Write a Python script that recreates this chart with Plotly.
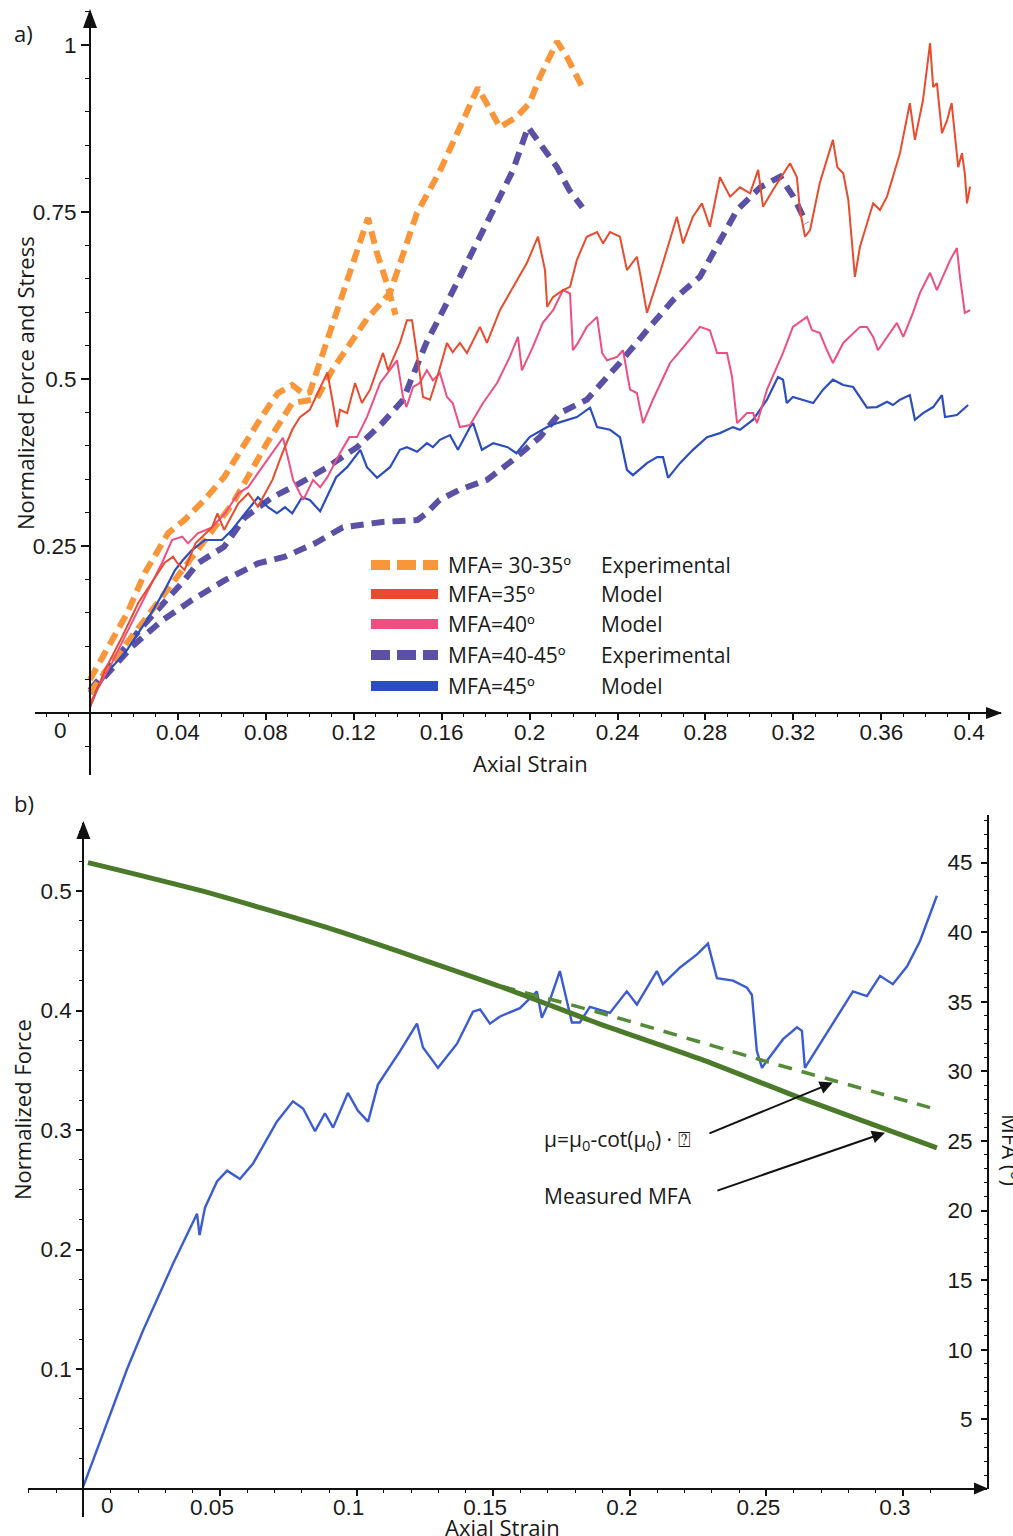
import plotly.graph_objects as go

# ---------------- DATA (panel a) ----------------
orange_a_x = [0, 0.008, 0.017, 0.025, 0.0355, 0.043, 0.052, 0.061, 0.0705, 0.078, 0.0855, 0.092, 0.097, 0.1,
              0.1265, 0.1305, 0.135, 0.139]
orange_a_y = [0.05, 0.099, 0.15, 0.21, 0.269, 0.289, 0.319, 0.353, 0.404, 0.443, 0.479, 0.491, 0.478, 0.48,
              0.741, 0.689, 0.644, 0.596]

orange_b_x = [0, 0.012, 0.025, 0.04, 0.05, 0.065, 0.0805, 0.092, 0.103, 0.1105, 0.126, 0.1365, 0.1488, 0.159,
              0.1765, 0.1865, 0.194, 0.2, 0.2047, 0.2125, 0.217, 0.2215, 0.225]
orange_b_y = [0.03, 0.085, 0.14, 0.205, 0.249, 0.314, 0.404, 0.464, 0.47, 0.515, 0.59, 0.629, 0.749, 0.81,
              0.936, 0.877, 0.892, 0.913, 0.952, 1.005, 0.982, 0.952, 0.93]

purple_a_x = [0, 0.0127, 0.0237, 0.043, 0.049, 0.061, 0.0705, 0.083, 0.0955, 0.108, 0.1215, 0.133, 0.1425,
              0.1455, 0.153, 0.1607, 0.168, 0.176, 0.1835, 0.1925, 0.1993, 0.2047, 0.2125, 0.218, 0.224]
purple_a_y = [0.034, 0.084, 0.129, 0.199, 0.224, 0.249, 0.293, 0.323, 0.344, 0.368, 0.398, 0.434, 0.469,
              0.494, 0.554, 0.603, 0.653, 0.704, 0.753, 0.813, 0.877, 0.853, 0.817, 0.783, 0.757]

purple_b_x = [0, 0.019, 0.033, 0.0464, 0.0614, 0.0764, 0.0887, 0.1024, 0.115, 0.133, 0.149, 0.153, 0.159,
              0.168, 0.1806, 0.1925, 0.2047, 0.2138, 0.226, 0.241, 0.2534, 0.2652, 0.2775, 0.2866, 0.2944,
              0.305, 0.314, 0.32, 0.326]
purple_b_y = [0.03, 0.099, 0.139, 0.169, 0.199, 0.224, 0.234, 0.254, 0.278, 0.286, 0.289, 0.299, 0.319,
              0.334, 0.349, 0.379, 0.413, 0.449, 0.469, 0.524, 0.573, 0.618, 0.653, 0.708, 0.753,
              0.787, 0.803, 0.773, 0.733]

red_x = [0, 0.0068, 0.0146, 0.022, 0.028, 0.034, 0.0378, 0.0396, 0.043, 0.048, 0.0555, 0.058, 0.061, 0.0675,
         0.072, 0.0764, 0.083, 0.0875, 0.092, 0.0955, 0.1, 0.1047, 0.108, 0.1105, 0.1124, 0.1137, 0.117,
         0.1206, 0.1237, 0.1274, 0.1333, 0.1356, 0.141, 0.1442, 0.1465, 0.150, 0.1515, 0.1547, 0.158, 0.1624,
         0.165, 0.1683, 0.1715, 0.1774, 0.1806, 0.1865, 0.1925, 0.1988, 0.2038, 0.207, 0.208, 0.2107, 0.2152,
         0.2184, 0.2215, 0.226, 0.2307, 0.2334, 0.2366, 0.2411, 0.2443, 0.2488, 0.2502, 0.2534, 0.2593, 0.267,
         0.2698, 0.2743, 0.2784, 0.282, 0.2866, 0.2912, 0.2957, 0.3003, 0.304, 0.3062, 0.3107, 0.317, 0.3185,
         0.3216, 0.323, 0.3253, 0.3276, 0.332, 0.338, 0.34, 0.3427, 0.345, 0.348, 0.3503, 0.3563, 0.3594,
         0.3626, 0.3685, 0.373, 0.3753, 0.379, 0.3822, 0.3836, 0.3853, 0.3876, 0.39, 0.392, 0.395, 0.3967,
         0.398, 0.399, 0.4004]
red_y = [0.009, 0.064, 0.114, 0.165, 0.195, 0.225, 0.234, 0.225, 0.214, 0.254, 0.278, 0.299, 0.274, 0.314,
         0.329, 0.309, 0.349, 0.389, 0.424, 0.443, 0.454, 0.488, 0.510, 0.464, 0.428, 0.454, 0.449,
         0.494, 0.464, 0.484, 0.539, 0.513, 0.554, 0.588, 0.588, 0.509, 0.473, 0.469, 0.503, 0.554,
         0.540, 0.554, 0.539, 0.578, 0.554, 0.603, 0.638, 0.674, 0.713, 0.663, 0.608, 0.623, 0.633,
         0.638, 0.678, 0.713, 0.720, 0.703, 0.720, 0.713, 0.663, 0.683, 0.659, 0.599, 0.659, 0.743,
         0.703, 0.743, 0.763, 0.728, 0.802, 0.773, 0.787, 0.778, 0.813, 0.758, 0.783, 0.817, 0.823,
         0.802, 0.753, 0.713, 0.723, 0.793, 0.858, 0.817, 0.808, 0.768, 0.653, 0.698, 0.763, 0.753,
         0.773, 0.838, 0.913, 0.858, 0.918, 1.003, 0.937, 0.943, 0.868, 0.888, 0.913, 0.817, 0.838,
         0.808, 0.763, 0.788]

pink_x = [0, 0.01, 0.0173, 0.025, 0.0328, 0.0373, 0.042, 0.0446, 0.049, 0.0555, 0.0614, 0.0675, 0.0719,
          0.0764, 0.083, 0.0878, 0.09, 0.0924, 0.097, 0.1015, 0.1047, 0.108, 0.1137, 0.118, 0.1215, 0.126,
          0.132, 0.1365, 0.1397, 0.1424, 0.144, 0.147, 0.150, 0.1533, 0.156, 0.1592, 0.1624, 0.165, 0.1683,
          0.1729, 0.1788, 0.1852, 0.191, 0.1947, 0.1965, 0.2015, 0.206, 0.2107, 0.2152, 0.2184, 0.2197, 0.222,
          0.226, 0.2307, 0.233, 0.2352, 0.2398, 0.2425, 0.2457, 0.2488, 0.2516, 0.2561, 0.2639, 0.2716, 0.2775,
          0.282, 0.2853, 0.2898, 0.2921, 0.2944, 0.2989, 0.3017, 0.3035, 0.308, 0.3153, 0.3198, 0.3262, 0.3285,
          0.332, 0.3353, 0.338, 0.3427, 0.3472, 0.3503, 0.3535, 0.3563, 0.3585, 0.3626, 0.3671, 0.37, 0.3744,
          0.3776, 0.3822, 0.3853, 0.388, 0.3913, 0.3944, 0.3958, 0.398, 0.4004]
pink_y = [0.015, 0.075, 0.124, 0.174, 0.225, 0.259, 0.264, 0.254, 0.269, 0.278, 0.299, 0.329, 0.338,
          0.359, 0.389, 0.412, 0.383, 0.349, 0.319, 0.349, 0.338, 0.353, 0.389, 0.413, 0.413, 0.443,
          0.494, 0.513, 0.528, 0.473, 0.458, 0.488, 0.494, 0.513, 0.498, 0.509, 0.473, 0.464, 0.428,
          0.431, 0.464, 0.494, 0.533, 0.563, 0.513, 0.548, 0.584, 0.603, 0.633, 0.628, 0.543, 0.554,
          0.578, 0.593, 0.539, 0.528, 0.533, 0.543, 0.484, 0.479, 0.434, 0.469, 0.524, 0.554, 0.578,
          0.573, 0.539, 0.539, 0.503, 0.434, 0.449, 0.449, 0.434, 0.484, 0.539, 0.578, 0.593, 0.573,
          0.569, 0.543, 0.524, 0.554, 0.569, 0.578, 0.578, 0.563, 0.543, 0.563, 0.584, 0.563, 0.599,
          0.629, 0.659, 0.633, 0.653, 0.678, 0.696, 0.653, 0.599, 0.603]

blue_x = [0, 0.0036, 0.01, 0.016, 0.022, 0.028, 0.034, 0.0387, 0.0423, 0.0464, 0.0523, 0.06, 0.0646, 0.0705,
          0.0764, 0.081, 0.085, 0.0887, 0.092, 0.0965, 0.1, 0.1047, 0.112, 0.117, 0.123, 0.126, 0.1306, 0.1365,
          0.141, 0.1442, 0.1488, 0.1533, 0.156, 0.1592, 0.1638, 0.1674, 0.1729, 0.1743, 0.1783, 0.1835, 0.19,
          0.194, 0.2, 0.208, 0.2125, 0.2215, 0.2275, 0.2307, 0.2366, 0.2411, 0.2443, 0.247, 0.2534, 0.258,
          0.2607, 0.263, 0.2684, 0.2743, 0.2807, 0.2866, 0.2925, 0.2957, 0.3017, 0.308, 0.313, 0.3153, 0.317,
          0.3198, 0.3244, 0.329, 0.3335, 0.338, 0.3427, 0.3472, 0.3503, 0.3535, 0.358, 0.3626, 0.3653, 0.3685,
          0.373, 0.3753, 0.379, 0.3836, 0.3876, 0.389, 0.3944, 0.3995]
blue_y = [0.009, 0.039, 0.069, 0.09, 0.12, 0.15, 0.184, 0.214, 0.229, 0.244, 0.259, 0.259, 0.274, 0.299,
          0.323, 0.308, 0.299, 0.308, 0.299, 0.323, 0.319, 0.302, 0.353, 0.368, 0.394, 0.368, 0.352, 0.368,
          0.394, 0.398, 0.391, 0.404, 0.398, 0.409, 0.416, 0.394, 0.428, 0.434, 0.394, 0.404, 0.398,
          0.389, 0.413, 0.428, 0.434, 0.443, 0.457, 0.428, 0.424, 0.413, 0.364, 0.356, 0.374, 0.383,
          0.383, 0.352, 0.374, 0.394, 0.413, 0.419, 0.428, 0.424, 0.439, 0.469, 0.503, 0.499, 0.464,
          0.473, 0.469, 0.464, 0.484, 0.499, 0.491, 0.488, 0.473, 0.457, 0.458, 0.466, 0.461, 0.469,
          0.476, 0.439, 0.449, 0.458, 0.476, 0.443, 0.446, 0.461]

top_x_ticks = [0.04, 0.08, 0.12, 0.16, 0.2, 0.24, 0.28, 0.32, 0.36, 0.4]
top_x_labels = ["0.04", "0.08", "0.12", "0.16", "0.2", "0.24", "0.28", "0.32", "0.36", "0.4"]
top_y_ticks = [0.25, 0.5, 0.75, 1.0]
top_y_labels = ["0.25", "0.5", "0.75", "1"]

legend_labels = ["MFA= 30-35º", "MFA=35º", "MFA=40º", "MFA=40-45º", "MFA=45º"]
legend_types = ["Experimental", "Model", "Model", "Experimental", "Model"]

# ---------------- DATA (panel b) ----------------
force_x = [0, 0.016, 0.0218, 0.0328, 0.0416, 0.0425, 0.0445, 0.0489, 0.0526, 0.0573, 0.0621, 0.0708, 0.0767,
           0.0804, 0.0848, 0.0884, 0.0914, 0.0968, 0.1005, 0.1042, 0.1078, 0.1159, 0.1221, 0.1243, 0.1298,
           0.1367, 0.1426, 0.1452, 0.1488, 0.1525, 0.1598, 0.166, 0.1678, 0.1708, 0.1744, 0.177, 0.1788,
           0.1817, 0.1854, 0.1927, 0.1989, 0.2026, 0.2099, 0.2121, 0.2184, 0.2246, 0.2286, 0.2319, 0.2378,
           0.2429, 0.2447, 0.2465, 0.2484, 0.2502, 0.2561, 0.2612, 0.263, 0.2641, 0.2696, 0.2744, 0.2817,
           0.2868, 0.2916, 0.2963, 0.3015, 0.3062, 0.3124]
force_y = [0.002, 0.1, 0.132, 0.188, 0.23, 0.212, 0.235, 0.257, 0.266, 0.259, 0.272, 0.307, 0.324,
           0.318, 0.299, 0.314, 0.302, 0.331, 0.316, 0.307, 0.338, 0.366, 0.389, 0.369, 0.352,
           0.372, 0.399, 0.401, 0.389, 0.395, 0.402, 0.416, 0.394, 0.409, 0.433, 0.409, 0.39,
           0.39, 0.403, 0.398, 0.416, 0.405, 0.433, 0.422, 0.436, 0.447, 0.456, 0.427, 0.425,
           0.419, 0.413, 0.366, 0.352, 0.358, 0.376, 0.386, 0.383, 0.352, 0.372, 0.389, 0.416,
           0.412, 0.429, 0.422, 0.437, 0.458, 0.496]

mfa_meas_x = [0.0017, 0.0427, 0.0913, 0.1525, 0.1891, 0.2257, 0.2623, 0.3124]
mfa_meas_y = [45.0, 43.0, 40.2, 36.1, 33.4, 30.9, 28.1, 24.5]
mfa_model_x = [0.0017, 0.0427, 0.0913, 0.1525, 0.1744, 0.1938, 0.2502, 0.3099]
mfa_model_y = [45.0, 43.0, 40.2, 36.15, 35.0, 33.95, 30.7, 27.4]

bot_x_ticks = [0.05, 0.1, 0.15, 0.2, 0.25, 0.3]
bot_x_labels = ["0.05", "0.1", "0.15", "0.2", "0.25", "0.3"]
bot_yl_ticks = [0.1, 0.2, 0.3, 0.4, 0.5]
bot_yl_labels = ["0.1", "0.2", "0.3", "0.4", "0.5"]
bot_yr_ticks = [5, 10, 15, 20, 25, 30, 35, 40, 45]
bot_yr_labels = ["5", "10", "15", "20", "25", "30", "35", "40", "45"]

# ---------------- STYLE ----------------
W, H = 1013, 1536
C_ORANGE = "#F9963A"
C_RED = "#E84B2D"
C_PINK = "#EE4F80"
C_PURPLE = "#5A50A5"
C_BLUE = "#2B4DBE"
C_BLUE_B = "#3A5BD2"
C_GREEN = "#4A7A2A"
C_GREEN_D = "#558A38"
AX = "#111111"
TXT_FONT = "Open Sans, Noto Sans, sans-serif"
TICK_FONT = dict(family="Liberation Sans, Arial, sans-serif", size=22.5, color="#1a1a1a")


def PX(x):
    return x / W


def PY(y):
    return 1 - y / H


# panel a geometry (pixels)
A_X0, A_XS, A_Y0, A_YS = 90.0, 2198.0, 713.0, 668.0
A_L, A_R, A_T, A_B = 35.0, 1001.0, 11.0, 775.0
# panel b geometry (pixels)
B_X0, B_XS, B_Y0, B_YS = 83.4, 2732.0, 1488.5, 1195.0
B_L, B_R, B_T, B_B = 28.0, 987.0, 823.0, 1517.0
B_R0, B_RS, B_RT = 1489.0, 13.92, 815.0

fig = go.Figure()

def add_top(x, y, color, width, dash):
    fig.add_trace(go.Scatter(x=x, y=y, mode="lines", xaxis="x", yaxis="y", showlegend=False,
                             line=dict(color=color, width=width, dash=dash), hoverinfo="skip"))

add_top(purple_b_x, purple_b_y, C_PURPLE, 6, "13px,8px")
add_top(purple_a_x, purple_a_y, C_PURPLE, 6, "13px,8px")
add_top(orange_a_x, orange_a_y, C_ORANGE, 6, "13px,7px")
add_top(orange_b_x, orange_b_y, C_ORANGE, 6, "13px,7px")
add_top(blue_x, blue_y, C_BLUE, 2.2, "solid")
add_top(pink_x, pink_y, C_PINK, 2, "solid")
add_top(red_x, red_y, C_RED, 2, "solid")

fig.add_trace(go.Scatter(x=force_x, y=force_y, mode="lines", xaxis="x2", yaxis="y2", showlegend=False,
                         line=dict(color=C_BLUE_B, width=2.4), hoverinfo="skip"))
fig.add_trace(go.Scatter(x=mfa_model_x, y=mfa_model_y, mode="lines", xaxis="x2", yaxis="y3", showlegend=False,
                         line=dict(color=C_GREEN_D, width=3.5, dash="14px,10px", shape="spline",
                                   smoothing=0.6), hoverinfo="skip"))
fig.add_trace(go.Scatter(x=mfa_meas_x, y=mfa_meas_y, mode="lines", xaxis="x2", yaxis="y3", showlegend=False,
                         line=dict(color=C_GREEN, width=5, shape="spline", smoothing=0.6), hoverinfo="skip"))

axis_common = dict(showgrid=False, zeroline=False, showline=True, linecolor=AX, linewidth=2,
                   tickcolor=AX, tickwidth=1.5, tickfont=TICK_FONT, tickmode="array")

top_x_minor = [round(i * 0.01, 3) for i in range(-2, 42)]
top_y_minor = [round(i * 0.05, 3) for i in range(-1, 22)]
bot_x_minor = [round(i * 0.01, 3) for i in range(-2, 34)]
bot_yl_minor = [round(i * 0.025, 3) for i in range(-1, 23)]
bot_yr_minor = list(range(0, 49))

fig.update_layout(
    width=W, height=H, margin=dict(l=0, r=0, t=0, b=0),
    paper_bgcolor="white", plot_bgcolor="rgba(0,0,0,0)",
    xaxis=dict(axis_common, domain=[PX(A_L), PX(A_R)],
               range=[(A_L - A_X0) / A_XS, (A_R - A_X0) / A_XS],
               anchor="free", position=PY(A_Y0),
               ticks="outside", ticklen=6, tickvals=top_x_ticks, ticktext=top_x_labels,
               ticklabelstandoff=-7,
               minor=dict(tickvals=top_x_minor, ticks="outside", ticklen=3, tickcolor=AX, tickwidth=1)),
    yaxis=dict(axis_common, domain=[PY(A_B), PY(A_T)],
               range=[(A_Y0 - A_B) / A_YS, (A_Y0 - A_T) / A_YS],
               anchor="free", position=PX(A_X0),
               ticks="outside", ticklen=8, tickvals=top_y_ticks, ticktext=top_y_labels,
               minor=dict(tickvals=top_y_minor, ticks="outside", ticklen=4, tickcolor=AX, tickwidth=1)),
    xaxis2=dict(axis_common, domain=[PX(B_L), PX(B_R)],
                range=[(B_L - B_X0) / B_XS, (B_R - B_X0) / B_XS],
                anchor="free", position=PY(B_Y0),
                ticks="outside", ticklen=6, tickvals=bot_x_ticks, ticktext=bot_x_labels,
                ticklabelshift=-8, ticklabelstandoff=-8,
                minor=dict(tickvals=bot_x_minor, ticks="outside", ticklen=3, tickcolor=AX, tickwidth=1)),
    yaxis2=dict(axis_common, domain=[PY(B_B), PY(B_T)],
                range=[(B_Y0 - B_B) / B_YS, (B_Y0 - B_T) / B_YS],
                anchor="free", position=PX(B_X0),
                ticks="outside", ticklen=6, tickvals=bot_yl_ticks, ticktext=bot_yl_labels,
                minor=dict(tickvals=bot_yl_minor, ticks="outside", ticklen=3, tickcolor=AX, tickwidth=1)),
    yaxis3=dict(axis_common, domain=[PY(B_R0), PY(B_RT)],
                range=[0, (B_R0 - B_RT) / B_RS],
                anchor="x2", side="right",
                ticks="inside", ticklen=6, ticklabelposition="inside", ticklabelstandoff=10,
                tickvals=bot_yr_ticks, ticktext=bot_yr_labels,
                minor=dict(tickvals=bot_yr_minor, ticks="inside", ticklen=3, tickcolor=AX, tickwidth=1)),
)

# axis arrow heads (pixel geometry -> paper)
def tri(p1, p2, p3):
    return dict(type="path", xref="paper", yref="paper", line=dict(width=0), fillcolor=AX,
                path="M {} {} L {} {} L {} {} Z".format(PX(p1[0]), PY(p1[1]), PX(p2[0]), PY(p2[1]),
                                                      PX(p3[0]), PY(p3[1])))

shapes = [
    tri((A_X0, 9), (A_X0 - 7, 28), (A_X0 + 7, 28)),
    tri((A_R + 1, A_Y0), (A_R - 15, A_Y0 - 6), (A_R - 15, A_Y0 + 6)),
    tri((B_X0, B_T - 2), (B_X0 - 7, B_T + 16), (B_X0 + 7, B_T + 16)),
    tri((B_R + 1, B_Y0), (B_R - 13, B_Y0 - 6), (B_R - 13, B_Y0 + 6)),
]

# legend swatches
leg_rows = [565, 594, 624, 655, 686]
leg_styles = [(C_ORANGE, "19px,7px"), (C_RED, "solid"), (C_PINK, "solid"),
              (C_PURPLE, "19px,7px"), (C_BLUE, "solid")]
for yrow, (col, dsh) in zip(leg_rows, leg_styles):
    shapes.append(dict(type="line", xref="paper", yref="paper", x0=PX(371), x1=PX(438),
                       y0=PY(yrow), y1=PY(yrow), line=dict(color=col, width=10, dash=dsh)))

ann = []

def text(x, y, s, size=22, xanchor="left", angle=0, color="#1a1a1a", family=TXT_FONT):
    ann.append(dict(x=PX(x), y=PY(y), xref="paper", yref="paper", text=s, showarrow=False,
                    xanchor=xanchor, yanchor="middle", textangle=angle,
                    font=dict(family=family, size=size, color=color)))

text(12, 33, "a)", 22)
text(12, 803, "b)", 22)
text(530, 763, "Axial Strain", 22, "center")
text(25, 383, "Normalized Force and Stress", 22, "center", -90)
text(502, 1527, "Axial Strain", 22, "center")
text(22, 1110, "Normalized Force", 22, "center", -90)
text(1011, 1150, "MFA (º)", 22, "center", 90)
text(60, 731, "0", 22.5, "center", family=TICK_FONT["family"], color="#1a1a1a")
text(107, 1505, "0", 22.5, "center", family=TICK_FONT["family"], color="#1a1a1a")

for yrow, lab, typ in zip(leg_rows, legend_labels, legend_types):
    text(446, yrow, lab, 21)
    text(599, yrow, typ, 21)

text(542, 1140, "μ=μ<sub>0</sub>-cot(μ<sub>0</sub>) · ⍰", 21)
text(542, 1196, "Measured MFA", 21)

# arrows in panel b (data coordinates of the right axis)
arrow_model_head = (0.2743, 29.2)
arrow_model_tail = (0.2286, 25.5)
arrow_meas_head = (0.2934, 25.6)
arrow_meas_tail = (0.2315, 21.4)
for head, tail in [(arrow_model_head, arrow_model_tail), (arrow_meas_head, arrow_meas_tail)]:
    ann.append(dict(x=head[0], y=head[1], xref="x2", yref="y3", ax=tail[0], ay=tail[1],
                    axref="x2", ayref="y3", text="", showarrow=True, arrowhead=2, arrowsize=1.3,
                    arrowwidth=2, arrowcolor="#111111"))

fig.update_layout(shapes=shapes, annotations=ann)
fig.write_html("out.html")
